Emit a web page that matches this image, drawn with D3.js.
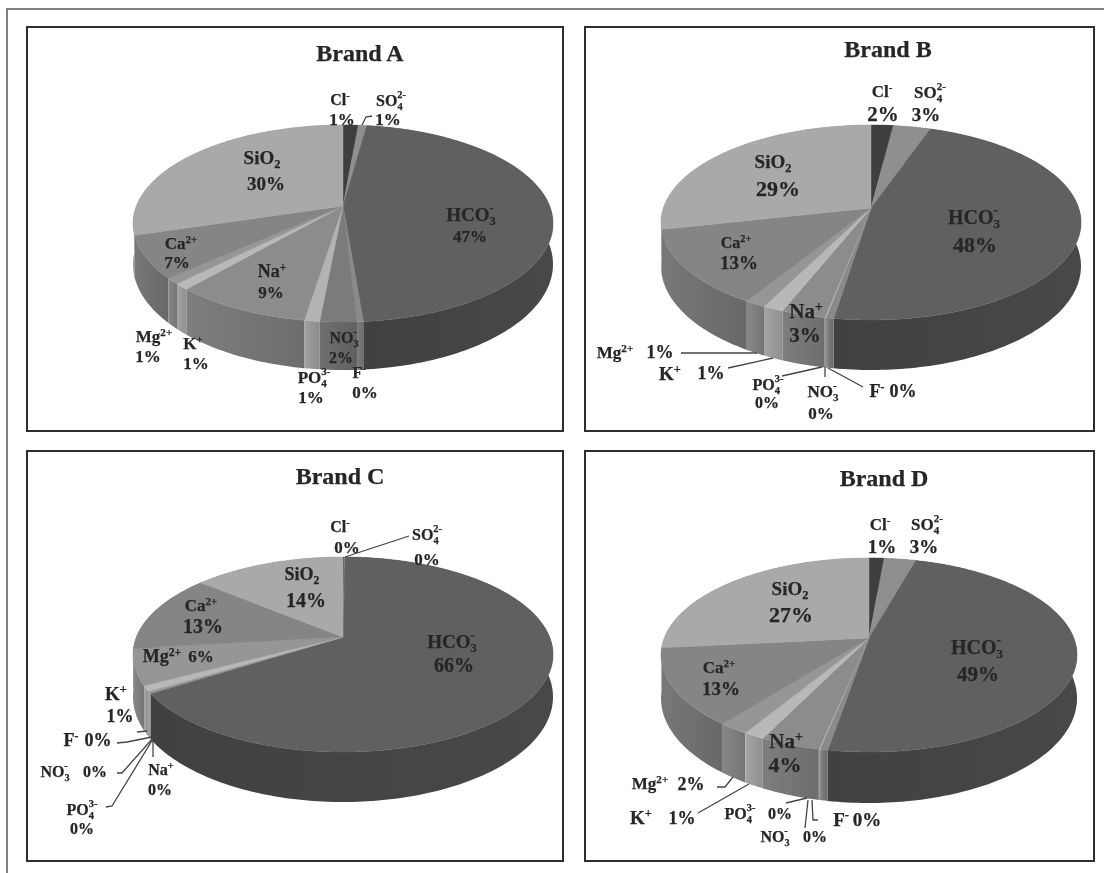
<!DOCTYPE html>
<html>
<head>
<meta charset="utf-8">
<script src="https://cdn.jsdelivr.net/npm/d3@7"></script>
<style>
  body { margin: 0; background: #fff; }
  svg { display: block; filter: blur(0.55px); }
  text { font-family: "Liberation Serif", serif; font-weight: bold; fill: #262626; stroke: #262626; stroke-width: 0.25; text-anchor: middle; }
</style>
</head>
<body>
<svg id="chart" width="1104" height="873"></svg>
<script>
const ions = ['Cl', 'SO4', 'HCO3', 'F', 'NO3', 'PO4', 'Na', 'K', 'Mg', 'Ca', 'SiO2'];

// percent shares, tiny slices are estimates
const brandA = [1.4, 0.8, 47, 0.4, 2.4, 1, 9, 1, 1, 7, 30];
const brandB = [2, 3.4, 48, 0.4, 0.1, 0.1, 3, 1.4, 1.4, 13, 29];
const brandC = [0.1, 0.1, 66, 0.1, 0.1, 0.1, 0.1, 0.9, 6, 13, 14];
const brandD = [1.4, 3, 49, 0.4, 0.1, 0.1, 4, 1.4, 2, 13, 27];

const shades = ['#3f3d3e', '#8f8f8f', '#615f61', '#8a8a8a', '#7b7b7b', '#b3b3b3', '#8c8c8c', '#b8b8b8', '#969696', '#858585', '#a9a9a9'];

// how each ion is typeset
const formula = {
  Cl: { base: 'Cl', sup: '-' },
  SO4: { base: 'SO', sub: '4', sup: '2-' },
  HCO3: { base: 'HCO', sub: '3', sup: '-' },
  F: { base: 'F', sup: '-' },
  NO3: { base: 'NO', sub: '3', sup: '-' },
  PO4: { base: 'PO', sub: '4', sup: '3-' },
  Na: { base: 'Na', sup: '+' },
  K: { base: 'K', sup: '+' },
  Mg: { base: 'Mg', sup: '2+' },
  Ca: { base: 'Ca', sup: '2+' },
  SiO2: { base: 'SiO', sub: '2' }
};

// label entries: name x, y, size, then percent x, y, size
const panels = [
  { title: 'Brand A', values: brandA, box: [27, 27, 563, 431], apex: [343, 206], top: 125, front: 322, floor: 370, rx: 210, titlePos: [360, 61],
    labels: {
      Cl: [340, 105, 16, 342, 125, 17], SO4: [391, 106, 16, 388, 125, 17], HCO3: [471, 221, 19, 470, 242, 17],
      F: [359, 378, 16, 365, 398, 17], NO3: [344, 343, 16, 341, 363, 16], PO4: [314, 383, 17, 311, 403, 17],
      Na: [272, 277, 18, 271, 298, 17], K: [193, 349, 17, 196, 369, 17], Mg: [154, 342, 17, 148, 362, 17],
      Ca: [181, 249, 17, 177, 268, 17], SiO2: [262, 164, 19, 266, 190, 19]
    },
    leaders: [[[362, 125], [366, 117], [372, 116]]] },
  { title: 'Brand B', values: brandB, box: [585, 27, 1094, 431], apex: [871, 208], top: 125, front: 320, floor: 370, rx: 210, titlePos: [888, 57],
    labels: {
      Cl: [882, 97, 17, 883, 121, 21], SO4: [930, 98, 17, 926, 121, 19], HCO3: [974, 224, 20, 975, 252, 22],
      F: [877, 397, 18, 903, 397, 18], NO3: [823, 397, 17, 821, 419, 17], PO4: [768, 390, 16, 767, 408, 16],
      Na: [806, 318, 21, 805, 342, 21], K: [670, 380, 19, 711, 379, 18], Mg: [615, 358, 17, 660, 358, 18],
      Ca: [736, 248, 16, 739, 269, 19], SiO2: [773, 168, 19, 778, 196, 22]
    },
    leaders: [[[681, 353], [757, 353]], [[728, 368], [773, 358]], [[782, 376], [822, 367]], [[825, 377], [825, 367]], [[863, 387], [828, 368]]] },
  { title: 'Brand C', values: brandC, box: [27, 451, 563, 861], apex: [343, 637], top: 557, front: 752, floor: 802, rx: 210, titlePos: [340, 484],
    labels: {
      Cl: [340, 532, 16, 347, 553, 17], SO4: [427, 540, 16, 427, 565, 17], HCO3: [452, 648, 19, 454, 672, 20],
      F: [71, 746, 18, 98, 746, 18], NO3: [55, 777, 16, 95, 777, 16], PO4: [82, 815, 16, 82, 834, 16],
      Na: [161, 775, 16, 160, 795, 16], K: [116, 700, 19, 120, 722, 18], Mg: [162, 662, 18, 201, 662, 17],
      Ca: [201, 611, 17, 203, 633, 20], SiO2: [302, 580, 18, 306, 607, 20]
    },
    leaders: [[[345, 557], [409, 536]], [[137, 732], [147, 731]], [[117, 743], [127, 742], [152, 737]], [[117, 773], [122, 773], [153, 738]], [[106, 807], [112, 806], [153, 739]], [[153, 757], [153, 738]]] },
  { title: 'Brand D', values: brandD, box: [585, 451, 1094, 861], apex: [869, 638], top: 558, front: 752, floor: 803, rx: 208, titlePos: [884, 486],
    labels: {
      Cl: [880, 530, 17, 882, 553, 19], SO4: [927, 530, 17, 924, 553, 19], HCO3: [977, 654, 20, 978, 681, 21],
      F: [841, 826, 19, 867, 826, 19], NO3: [775, 842, 16, 815, 842, 16], PO4: [740, 819, 16, 780, 819, 16],
      Na: [786, 748, 21, 785, 772, 22], K: [641, 824, 19, 682, 824, 18], Mg: [650, 789, 17, 691, 790, 18],
      Ca: [719, 673, 17, 721, 695, 19], SiO2: [790, 595, 19, 791, 622, 22]
    },
    leaders: [[[717, 787], [725, 787], [733, 777]], [[698, 813], [749, 784]], [[786, 803], [807, 798]], [[805, 828], [808, 800]], [[818, 820], [813, 820], [812, 800]]] }
];

const svg = d3.select('#chart');
const defs = svg.append('defs');

const shade = d3.scaleOrdinal().domain(ions).range(shades);
const pie = d3.pie().sort(null);
const pct = d3.format('.0%');
const outline = d3.line().curve(d3.curveLinear);

// page rule, only top and left in the scan
svg.append('path')
  .attr('d', outline([[7, 873], [7, 9], [1104, 9]]))
  .attr('fill', 'none').attr('stroke', '#555').attr('stroke-width', 1.5);

// perspective view of a flat disc, apex stays put and the near edge grows
function makeProjection(p) {
  const up = p.apex[1] - p.top;
  const down = p.front - p.apex[1];
  const tilt = (down - up) / (down + up);
  const ry = up * (1 + tilt);
  const rx = p.rx * Math.sqrt(1 - tilt * tilt);
  const drop = (p.floor - p.front) * (1 - tilt);
  return (angle, lowered) => {
    const u = Math.sin(angle);
    const v = -Math.cos(angle);
    const w = 1 / (1 - tilt * v);
    return [p.apex[0] + rx * u * w, p.apex[1] + (ry * v + (lowered ? drop : 0)) * w];
  };
}

function arcAngles(a0, a1) {
  const n = Math.max(2, Math.ceil((a1 - a0) / 0.02));
  return d3.range(n + 1).map(i => a0 + (a1 - a0) * i / n);
}

function ionLabel(g, ion, x, y, size) {
  const f = formula[ion];
  const t = g.append('text').attr('x', x).attr('y', y).attr('font-size', size);
  t.append('tspan').text(f.base);
  if (f.sub) {
    t.append('tspan').attr('font-size', size * 0.65).attr('dy', size * 0.22).text(f.sub);
  }
  if (f.sup) {
    const tsp = t.append('tspan').attr('font-size', size * 0.65).attr('dy', f.sub ? -size * 0.72 : -size * 0.35);
    if (f.sub) tsp.attr('dx', -size * 0.33);
    tsp.text(f.sup);
  }
}

panels.forEach((p, pi) => {
  const g = svg.append('g');
  const project = makeProjection(p);
  const slices = pie(p.values).map((s, i) => Object.assign(s, { ion: ions[i] }));

  g.append('rect')
    .attr('x', p.box[0]).attr('y', p.box[1])
    .attr('width', p.box[2] - p.box[0]).attr('height', p.box[3] - p.box[1])
    .attr('fill', '#fff').attr('stroke', '#2e2e2e').attr('stroke-width', 2);

  g.append('text')
    .attr('x', p.titlePos[0]).attr('y', p.titlePos[1])
    .attr('font-size', 24).text(p.title);

  // rim first, top face hides the far part of it
  const sideOrder = slices.slice().sort((a, b) =>
    -Math.cos((a.startAngle + a.endAngle) / 2) - -Math.cos((b.startAngle + b.endAngle) / 2));

  sideOrder.forEach((s, si) => {
    const angles = arcAngles(s.startAngle, s.endAngle);
    const upper = angles.map(a => project(a, false));
    const lower = angles.map(a => project(a, true)).reverse();
    const xs = upper.map(d => d[0]);
    const id = 'rim' + pi + '-' + si;
    const base = d3.color(shade(s.ion));
    const grad = defs.append('linearGradient').attr('id', id)
      .attr('gradientUnits', 'userSpaceOnUse')
      .attr('x1', d3.min(xs)).attr('x2', d3.max(xs)).attr('y1', 0).attr('y2', 0);
    const dark = s.ion === 'HCO3';
    grad.append('stop').attr('offset', 0).attr('stop-color', base.darker(dark ? 1.1 : 0.3));
    grad.append('stop').attr('offset', 1).attr('stop-color', base.darker(dark ? 0.8 : 0.7));
    g.append('path')
      .attr('d', outline(upper.concat(lower)) + 'Z')
      .attr('fill', 'url(#' + id + ')');
  });

  g.selectAll('.slice')
    .data(slices)
    .enter().append('path')
      .attr('class', 'slice')
      .attr('d', s => outline([p.apex].concat(arcAngles(s.startAngle, s.endAngle).map(a => project(a, false)))) + 'Z')
      .attr('fill', s => shade(s.ion))
      .attr('stroke', s => shade(s.ion))
      .attr('stroke-width', 0.5);

  p.leaders.forEach(points => {
    g.append('path')
      .attr('d', outline(points))
      .attr('fill', 'none').attr('stroke', '#444').attr('stroke-width', 1.3);
  });

  ions.forEach((ion, i) => {
    const l = p.labels[ion];
    ionLabel(g, ion, l[0], l[1], l[2]);
    g.append('text')
      .attr('x', l[3]).attr('y', l[4]).attr('font-size', l[5])
      .text(pct(p.values[i] / 100));
  });
});
</script>
</body>
</html>
